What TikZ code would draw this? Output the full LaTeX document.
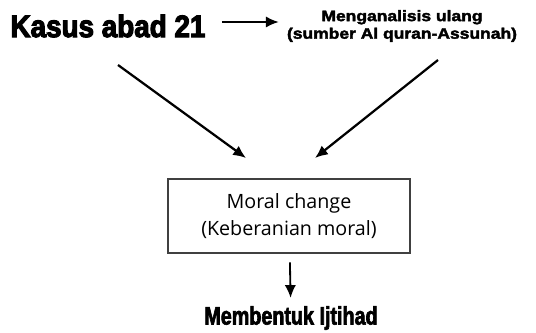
\documentclass[tikz,border=0pt]{standalone}
\usepackage{fontspec}
\setmainfont{Open Sans}
\newfontfamily\kasusfont[BoldFeatures={FakeBold=3.5,FakeStretch=0.9}]{Liberation Sans}
\newfontfamily\analisisfont[BoldFeatures={FakeBold=2.5,FakeStretch=1.15}]{Liberation Sans}
\newfontfamily\ijtihadfont[BoldFeatures={FakeBold=2.5,FakeStretch=0.78}]{Liberation Sans}
\usetikzlibrary{arrows.meta,positioning}

\begin{document}
\begin{tikzpicture}[
  x=0.025cm, y=-0.025cm,
  >={Latex[width=2.8mm,length=3.2mm]},
  kasus/.style={inner sep=0pt, font=\kasusfont\bfseries\fontsize{22}{24}\selectfont},
  analisis/.style={inner sep=0pt, align=center, font=\analisisfont\bfseries\fontsize{10.8}{12.5}\selectfont},
  moralbox/.style={draw=black!75, line width=0.8pt, align=center, minimum width=6.05cm,
                   minimum height=1.85cm, font=\fontsize{14}{19}\selectfont},
  ijtihad/.style={inner sep=0pt, font=\ijtihadfont\bfseries\fontsize{18}{20}\selectfont},
  link/.style={->, line width=1.6pt}]
\useasboundingbox (0,0) rectangle (536,333);
\node[kasus] (kasus) at (108,26) {Kasus abad 21};
\node[analisis] (analisis) at (402,26) {Menganalisis ulang\\(sumber Al quran-Assunah)};
\node[moralbox] (moral) at (289,216) {Moral change\\(Keberanian moral)};
\node[ijtihad] (ijtihad) at (291,318) {Membentuk Ijtihad};
\coordinate (kiri) at (118,65);
\coordinate (kiri-end) at (246,158);
\coordinate (kanan) at (438,60);
\coordinate (kanan-end) at (315,158);
\draw[link, line width=1.3pt, shorten <=4mm, shorten >=2mm]
  ([yshift=1mm]kasus.east) -- ([yshift=1mm]analisis.west);
\draw[link] (kiri) -- (kiri-end);
\draw[link] (kanan) -- (kanan-end);
\draw[link, line width=1.3pt, shorten <=2.2mm, shorten >=2mm] (moral) -- (ijtihad);
\end{tikzpicture}
\end{document}
